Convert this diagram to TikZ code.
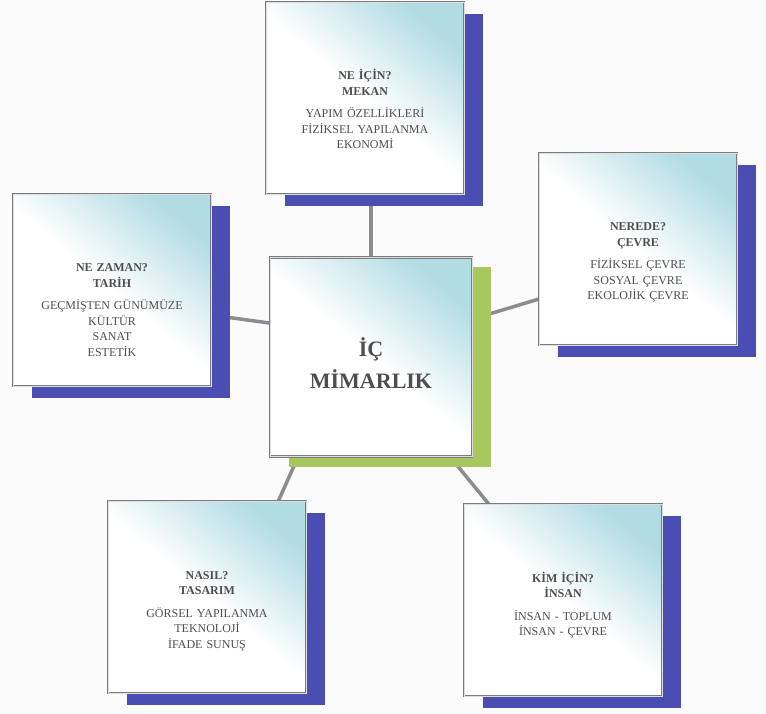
\documentclass[tikz,border=0pt]{standalone}
\usepackage{fontspec}
\setmainfont{Liberation Serif}
\usepackage{tikz}
\usetikzlibrary{calc,shadows,backgrounds}
\definecolor{boxedge}{HTML}{7C7C7C}
\definecolor{boxtint}{HTML}{B2DCE4}
\definecolor{shadeA}{HTML}{4A4DB2}
\definecolor{shadeB}{HTML}{A8C85E}
\definecolor{spoke}{HTML}{8C8C90}
\definecolor{textgray}{HTML}{4E4E4E}
\definecolor{paper}{HTML}{FBFBFB}

\begin{document}
\begin{tikzpicture}[x=1pt,y=-1pt,
  card/.style={draw=boxedge,double=boxedge!25,double distance=0.8pt,line width=0.7pt,
               top color=boxtint,bottom color=white,middle color=white,shading angle=-40,
               align=center,text width=198pt,inner sep=0pt,text=textgray,
               font=\fontsize{12}{15.5}\selectfont},
  outer/.style={card,text height=78pt,text depth=114pt},
  blue shadow/.style={general shadow={fill=shadeA,shadow xshift=19pt,shadow yshift=-12pt}},
  green shadow/.style={general shadow={fill=shadeB,shadow xshift=19pt,shadow yshift=-10pt}},
  link/.style={line width=3.5pt,draw=spoke}
]
\node[outer,blue shadow] (why) at (365,98)
  {\textbf{NE İÇİN?}\\\textbf{MEKAN}\\[7pt]
   YAPIM ÖZELLİKLERİ\\FİZİKSEL YAPILANMA\\EKONOMİ};
\node[outer,blue shadow] (when) at (112,290)
  {\textbf{NE ZAMAN?}\\\textbf{TARİH}\\[7pt]
   GEÇMİŞTEN GÜNÜMÜZE\\KÜLTÜR\\SANAT\\ESTETİK};
\node[outer,blue shadow] (where) at (638,249)
  {\textbf{NEREDE?}\\\textbf{ÇEVRE}\\[7pt]
   FİZİKSEL ÇEVRE\\SOSYAL ÇEVRE\\EKOLOJİK ÇEVRE};
\node[card,green shadow,text height=99pt,text depth=100pt,text width=202pt,
      font=\fontsize{22}{32}\selectfont\bfseries] (core) at (371,357)
  {İÇ\\MİMARLIK};
\node[outer,blue shadow] (how) at (207,597)
  {\textbf{NASIL?}\\\textbf{TASARIM}\\[7pt]
   GÖRSEL YAPILANMA\\TEKNOLOJİ\\İFADE SUNUŞ};
\node[outer,blue shadow] (whom) at (563,600)
  {\textbf{KİM İÇİN?}\\\textbf{İNSAN}\\[7pt]
   İNSAN - TOPLUM\\İNSAN - ÇEVRE};
\begin{scope}[on background layer]
\fill[paper] (0,0) rectangle (766,714);
\draw[link] (core.north) -- (core.north |- why.south);
\draw[link] ($(core.north west)!0.33!(core.south west)$) -- ($(when.north east)!0.63!(when.south east)$);
\draw[link] ($(core.north east)!0.31!(core.south east)$) -- ($(where.north west)!0.76!(where.south west)$);
\draw[link] ($(core.south west)!0.14!(core.south east)$) -- ($(how.north west)!0.86!(how.north east)$);
\draw[link] ($(core.south west)!0.89!(core.south east)$) -- ($(whom.north west)!0.125!(whom.north east)$);
\end{scope}
\end{tikzpicture}
\end{document}
